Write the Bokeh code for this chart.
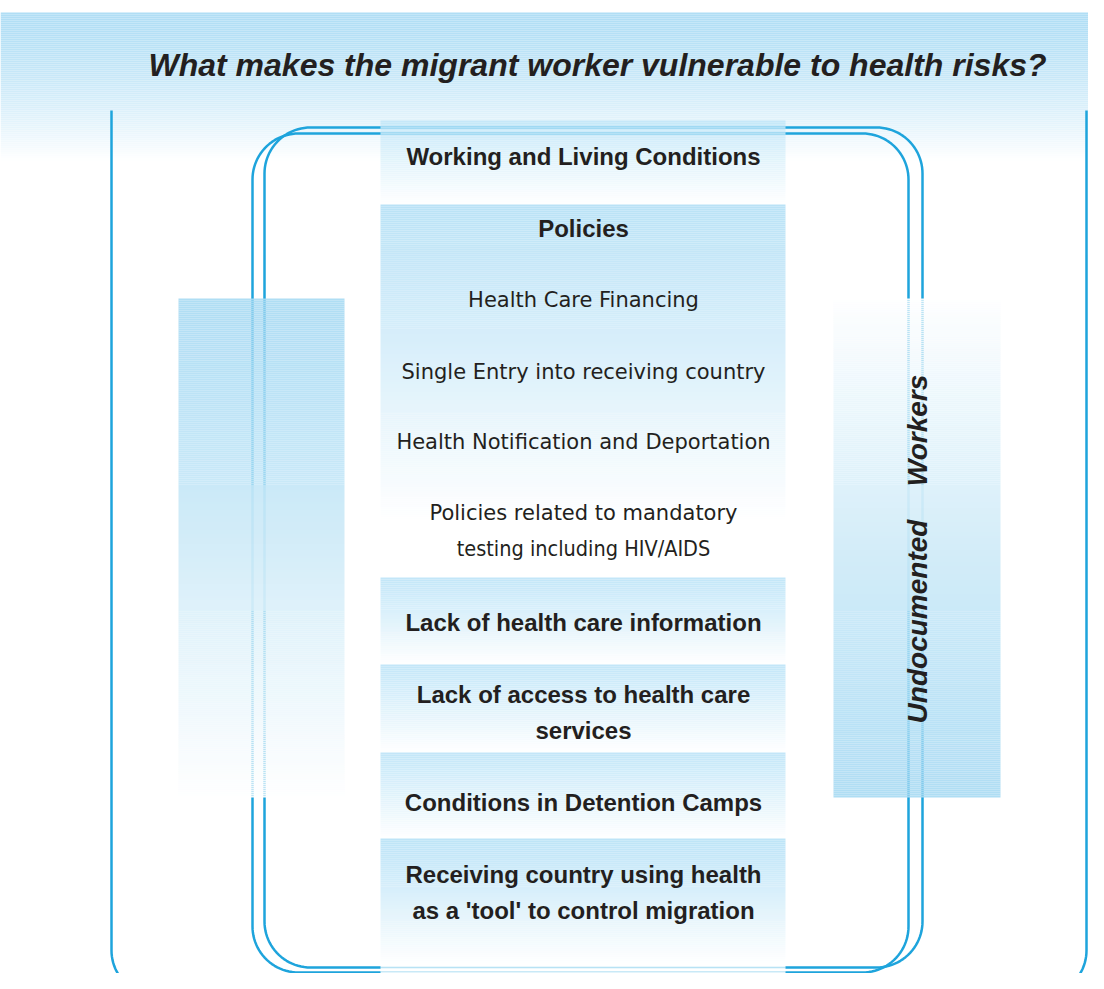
import numpy as np
from bokeh.plotting import figure
from bokeh.models import Range1d
from bokeh.core.properties import value
from bokeh.embed import file_html
from bokeh.resources import INLINE

# ---------------- content ----------------
title = "What makes the migrant worker vulnerable to health risks?"
section_titles = [
    ["Working and Living Conditions"],
    ["Policies"],
    ["Lack of health care information"],
    ["Lack of access to health care", "services"],
    ["Conditions in Detention Camps"],
    ["Receiving country using health", "as a 'tool' to control migration"],
]
policy_items = [
    "Health Care Financing",
    "Single Entry into receiving country",
    "Health Notification and Deportation",
    "Policies related to mandatory",
]
policy_item_narrow = "testing including HIV/AIDS"
side_label = ["Undocumented", "Workers"]

# ---------------- layout (pixel coordinates) ----------------
W, H = 1088, 973
LINE = "#1ea4dc"
TXT = "#231f20"
BLUE = "#b0def5"

p = figure(width=W, height=H, x_range=Range1d(0, W), y_range=Range1d(H, 0),
           output_backend="svg", toolbar_location=None, min_border=0,
           x_axis_type=None, y_axis_type=None)
p.grid.visible = False
p.outline_line_color = None
p.background_fill_color = "white"
p.border_fill_color = "white"


def hex2rgb(h):
    h = h.lstrip("#")
    return np.array([int(h[i:i + 2], 16) for i in (0, 2, 4)], dtype=float)


def mix(c0, c1, t):
    a, b = hex2rgb(c0), hex2rgb(c1)
    out = []
    for tt in t:
        c = a + (b - a) * tt
        out.append("#%02x%02x%02x" % tuple(int(round(v)) for v in c))
    return out


def gradient(x0, x1, y0, y1, c0, c1, alpha=1.0, power=1.0, step=2.0):
    n = max(1, int(round((y1 - y0) / step)))
    edges = np.linspace(y0, y1, n + 1)
    t = ((np.arange(n) + 0.5) / n) ** power
    cols = mix(c0, c1, t)
    p.quad(left=x0, right=x1, top=edges[:-1], bottom=edges[1:],
           fill_color=cols, line_color=None, fill_alpha=alpha)


def arc(cx, cy, r, a0, a1, n=24):
    a = np.radians(np.linspace(a0, a1, n))
    return cx + r * np.cos(a), cy + r * np.sin(a)


def rrect(l, r, t, b, rad):
    xs, ys = [], []
    for (cx, cy, a0, a1) in [(l + rad, t + rad, 180, 270), (r - rad, t + rad, 270, 360),
                             (r - rad, b - rad, 0, 90), (l + rad, b - rad, 90, 180)]:
        x, y = arc(cx, cy, rad, a0, a1)
        xs.extend(x); ys.extend(y)
    xs.append(xs[0]); ys.append(ys[0])
    return xs, ys


# header band
gradient(0, W, 12, 160, BLUE, "#ffffff", power=1.4)

# outer frame (open at top)
fl, fr, ftop, fb, frad = 111, 1086, 110, 995, 45
xs, ys = [fl], [ftop]
x, y = arc(fl + frad, fb - frad, frad, 180, 90); xs += list(x); ys += list(y)
x, y = arc(fr - frad, fb - frad, frad, 90, 0); xs += list(x); ys += list(y)
xs.append(fr); ys.append(ftop)
p.line(xs, ys, line_color=LINE, line_width=2.5)

# double rounded frame
for (l, r, t, b) in [(252, 908, 133, 972), (264, 922, 127, 967)]:
    xs, ys = rrect(l, r, t, b, 46)
    p.line(xs, ys, line_color=LINE, line_width=2.5)

# side panels
gradient(178, 344, 298, 797, "#a9dbf3", "#ffffff", alpha=0.93, power=1.1)
gradient(833, 1000, 298, 797, "#ffffff", "#a9dbf3", alpha=0.93, power=0.9)

# central column boxes
box_bounds = [(120, 204), (204, 577), (577, 664), (664, 752), (752, 838), (838, 985)]
box_top_colors = ["#c0e6f8", BLUE, "#bae3f7", "#bae3f7", "#bae3f7", "#b3e0f6"]
box_fade = [1.0, 0.85, 1.0, 1.0, 1.0, 0.85]
for (t, b), c, f in zip(box_bounds, box_top_colors, box_fade):
    gradient(380, 785, t, t + (b - t) * f, c, "#ffffff", alpha=0.88)
    if f < 1.0:
        gradient(380, 785, t + (b - t) * f, b, "#ffffff", "#ffffff", alpha=0.88)

# texts
CX = 583
p.text(x=[597], y=[64], text=[title], text_font=value("Liberation Sans"),
       text_font_style="bold italic", text_font_size="32px", text_color=TXT,
       text_align="center", text_baseline="middle")

section_y = [[156], [228], [622], [694, 730], [802], [874, 910]]
for lines, ys_ in zip(section_titles, section_y):
    p.text(x=[CX] * len(lines), y=ys_, text=lines, text_font=value("Liberation Sans"),
           text_font_style="bold", text_font_size="24px", text_color=TXT,
           text_align="center", text_baseline="middle")

p.text(x=[CX] * len(policy_items), y=[299, 371, 441, 512], text=policy_items,
       text_font=value("DejaVu Sans"), text_font_size="21px", text_color=TXT,
       text_align="center", text_baseline="middle")
p.text(x=[CX], y=[548], text=[policy_item_narrow],
       text_font=value("DejaVu Sans Condensed"), text_font_size="21.5px", text_color=TXT,
       text_align="center", text_baseline="middle")

p.text(x=[917, 917], y=[621, 430], text=side_label, text_font=value("Liberation Sans"),
       text_font_style="bold italic", text_font_size="28px", text_color=TXT,
       text_align="center", text_baseline="middle", angle=np.pi / 2)

open("out.html", "w").write(file_html(p, INLINE))
